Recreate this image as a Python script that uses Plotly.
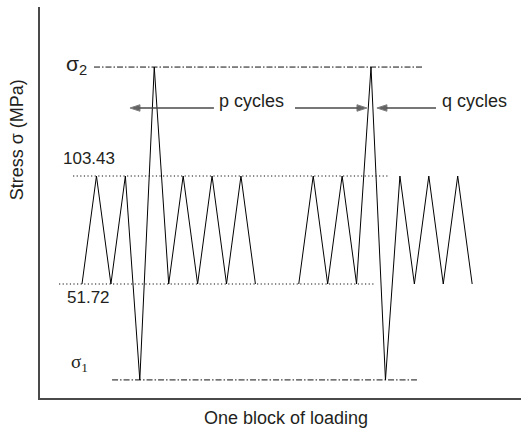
import plotly.graph_objects as go

# Stress levels (MPa)
stress_high = 103.43
stress_low = 51.72
sigma_2 = 155.6
sigma_1 = 5.8

# Reversal index (half-cycle count) and stress for the two segments of the block
block1_index = [0, 1, 2, 3, 4, 5, 6, 7, 8, 9, 10, 11, 12]
block1_stress = [51.72, 103.43, 51.72, 103.43, 5.8, 155.6,
                 51.72, 103.43, 51.72, 103.43, 51.72, 103.43, 51.72]
block2_index = [15, 16, 17, 18, 19, 20, 21, 22, 23, 24, 25, 26, 27]
block2_stress = [51.72, 103.43, 51.72, 103.43, 51.72, 155.6, 5.8,
                 103.43, 51.72, 103.43, 51.72, 103.43, 51.72]

# Reference levels: value, start/end index, dash pattern
level_values = [sigma_2, stress_high, stress_low, sigma_1]
level_start = [0.83, -0.62, -1.59, 2.08]
level_end = [23.6, 21.18, 20.28, 23.18]
level_dash = ["6px,2px,1.5px,2px", "1.2px,2.4px", "1.2px,2.4px", "6px,2px,1.5px,2px"]

# Cycle-count arrows: tail and head positions along the block
arrow_tail = [9.13, 14.74, 24.5]
arrow_head = [3.32, 19.72, 20.41]
arrow_level = 136.0

FONT = "Liberation Sans, Arial, sans-serif"
INK = "#231f20"

fig = go.Figure()

for x0, x1, v, d in zip(level_start, level_end, level_values, level_dash):
    fig.add_trace(go.Scatter(x=[x0, x1], y=[v, v], mode="lines",
                             line=dict(color="#111", width=1, dash=d),
                             hoverinfo="skip", showlegend=False))

for xs, ys in [(block1_index, block1_stress), (block2_index, block2_stress)]:
    fig.add_trace(go.Scatter(x=xs, y=ys, mode="lines",
                             line=dict(color="#000", width=1),
                             showlegend=False))

for t0, t1 in zip(arrow_tail, arrow_head):
    fig.add_trace(go.Scatter(
        x=[t0, t1], y=[arrow_level, arrow_level], mode="lines+markers",
        line=dict(color="#4a4a4a", width=1.6),
        marker=dict(symbol="arrow", angleref="previous", size=[0, 10.5],
                    color="#222"),
        hoverinfo="skip", showlegend=False))

label_font = dict(family=FONT, size=18, color=INK)
annotations = [
    dict(x=9.35, y=139.5, xref="x", yref="y", text="p cycles",
         showarrow=False, xanchor="left", yanchor="middle", font=label_font),
    dict(x=24.8, y=139.5, xref="x", yref="y", text="q cycles",
         showarrow=False, xanchor="left", yanchor="middle", font=label_font),
    dict(x=2.45, y=112.0, xref="x", yref="y", text="103.43",
         showarrow=False, xanchor="right", yanchor="middle",
         font=dict(family=FONT, size=17, color=INK)),
    dict(x=2.05, y=45.3, xref="x", yref="y", text="51.72",
         showarrow=False, xanchor="right", yanchor="middle",
         font=dict(family=FONT, size=17, color=INK)),
    dict(x=0.45, y=sigma_2 + 1.0, xref="x", yref="y",
         text="σ<sub>2</sub>",
         showarrow=False, xanchor="right", yanchor="middle",
         font=dict(family=FONT, size=21, color=INK)),
    dict(x=-0.9, y=14.0, xref="x", yref="y", text="σ<sub>1</sub>",
         showarrow=False, xanchor="left", yanchor="middle",
         font=dict(family="Liberation Serif, Times New Roman, serif",
                   size=19, color=INK)),
    dict(x=0.511, y=-0.05, xref="paper", yref="paper",
         text="One block of loading", showarrow=False,
         xanchor="center", yanchor="middle", font=label_font),
    dict(x=-0.047, y=0.66, xref="paper", yref="paper",
         text="Stress σ (MPa)", textangle=-90, showarrow=False,
         xanchor="center", yanchor="middle", font=label_font),
]

axis_common = dict(showgrid=False, zeroline=False, showticklabels=False,
                   ticks="", showline=True, linecolor="#4a4a4a",
                   linewidth=1.5, mirror=False)

fig.update_layout(
    width=521, height=430,
    margin=dict(l=40, r=0, t=7, b=32),
    paper_bgcolor="white", plot_bgcolor="white",
    xaxis=dict(range=[-2.907, 30.38], **axis_common),
    yaxis=dict(range=[-2.86, 184.35], **axis_common),
    annotations=annotations,
    showlegend=False,
)

fig.write_html("out.html")
